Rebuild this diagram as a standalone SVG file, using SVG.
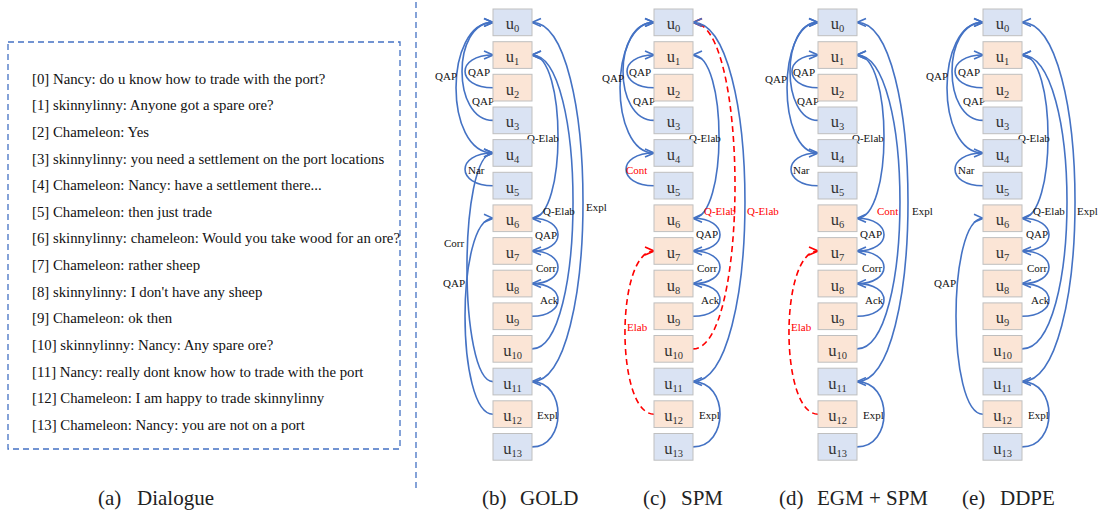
<svg xmlns="http://www.w3.org/2000/svg" width="1100" height="513" viewBox="0 0 1100 513">
<style>
.bg{fill:#ffffff}
.nb{fill:#dae3f3;stroke:#bfbfbf;stroke-width:1}
.no{fill:#fbe5d6;stroke:#bfbfbf;stroke-width:1}
text{font-family:'Liberation Serif','Times New Roman',Tinos,'DejaVu Serif',serif}
.ut{font-size:16.5px;fill:#333;text-anchor:middle}
.sub{font-size:10.5px}
.e{fill:none;stroke:#4472c4;stroke-width:1.6;marker-end:url(#ab)}
.er{fill:none;stroke:#ff0000;stroke-width:1.6;stroke-dasharray:6 4;marker-end:url(#ar)}
.lb{font-size:11px;fill:#111}
.lr{fill:#ff0000}
.dl{font-size:14.8px;fill:#111}
.cap{font-size:21px;fill:#222}
.dash{fill:none;stroke:#4472c4;stroke-width:1.3;stroke-dasharray:6 4}
</style>
<defs>
<marker id="ab" viewBox="0 0 10 10" refX="10" refY="5" markerWidth="10" markerHeight="10" markerUnits="userSpaceOnUse" orient="auto"><path d="M1,1 L10,5 L1,9" fill="none" stroke="#4472c4" stroke-width="1.6"/></marker>
<marker id="ar" viewBox="0 0 10 10" refX="10" refY="5" markerWidth="10" markerHeight="10" markerUnits="userSpaceOnUse" orient="auto"><path d="M1,1 L10,5 L1,9" fill="none" stroke="#ff0000" stroke-width="1.6"/></marker>
</defs>
<rect class="bg" x="0" y="0" width="1100" height="513"/>

<!-- Dialogue panel -->
<g id="dialogue">
<rect class="dash" x="8" y="42" width="392" height="407"/>
<text class="dl" x="32" y="83.5">[0] Nancy: do u know how to trade with the port?</text>
<text class="dl" x="32" y="110.2">[1] skinnylinny: Anyone got a spare ore?</text>
<text class="dl" x="32" y="136.8">[2] Chameleon: Yes</text>
<text class="dl" x="32" y="163.5">[3] skinnylinny: you need a settlement on the port locations</text>
<text class="dl" x="32" y="190.1">[4] Chameleon: Nancy: have a settlement there...</text>
<text class="dl" x="32" y="216.8">[5] Chameleon: then just trade</text>
<text class="dl" x="32" y="243.4">[6] skinnylinny: chameleon: Would you take wood for an ore?</text>
<text class="dl" x="32" y="270.1">[7] Chameleon: rather sheep</text>
<text class="dl" x="32" y="296.7">[8] skinnylinny: I don't have any sheep</text>
<text class="dl" x="32" y="323.4">[9] Chameleon: ok then</text>
<text class="dl" x="32" y="350">[10] skinnylinny: Nancy: Any spare ore?</text>
<text class="dl" x="32" y="376.7">[11] Nancy: really dont know how to trade with the port</text>
<text class="dl" x="32" y="403.3">[12] Chameleon: I am happy to trade skinnylinny</text>
<text class="dl" x="32" y="430">[13] Chameleon: Nancy: you are not on a port</text>
</g>
<line class="dash" x1="416" y1="2" x2="416" y2="490"/>

<!-- Connectors -->
<g id="connectors">
<!-- GOLD -->
<path class="e" d="M493,87.7 C455.7,87.7 455.7,55 493,55"/>
<path class="e" d="M493,120.4 C451.7,120.4 451.7,22.4 493,22.4"/>
<path class="e" d="M493,153 C443.7,153 443.7,22.4 493,22.4"/>
<path class="e" d="M493,185.7 C455.7,185.7 455.7,153 493,153"/>
<path class="e" d="M493,381.6 C458.3,381.6 458.3,153 493,153"/>
<path class="e" d="M493,414.2 C455.7,414.2 455.7,218.3 493,218.3"/>
<path class="e" d="M532,218.3 C566.7,218.3 566.7,55 532,55"/>
<path class="e" d="M532,348.9 C586.7,348.9 586.7,55 532,55"/>
<path class="e" d="M532,381.6 C600,381.6 600,22.4 532,22.4"/>
<path class="e" d="M532,251 C566.7,251 566.7,218.3 532,218.3"/>
<path class="e" d="M532,283.6 C566.7,283.6 566.7,251 532,251"/>
<path class="e" d="M532,316.3 C566.7,316.3 566.7,283.6 532,283.6"/>
<path class="e" d="M532,446.9 C566.7,446.9 566.7,381.6 532,381.6"/>
<!-- SPM -->
<path class="e" d="M654,87.7 C618,87.7 618,55 654,55"/>
<path class="e" d="M654,120.4 C612.7,120.4 612.7,22.4 654,22.4"/>
<path class="e" d="M654,153 C608.7,153 608.7,22.4 654,22.4"/>
<path class="e" d="M654,185.7 C616.7,185.7 616.7,153 654,153"/>
<path class="er" d="M654,414.2 C615.3,414.2 615.3,251 654,251"/>
<path class="e" d="M693,218.3 C727.7,218.3 727.7,55 693,55"/>
<path class="er" d="M693,348.9 C749,348.9 749,22.4 693,22.4"/>
<path class="e" d="M693,381.6 C762.3,381.6 762.3,22.4 693,22.4"/>
<path class="e" d="M693,251 C729,251 729,218.3 693,218.3"/>
<path class="e" d="M693,283.6 C729,283.6 729,251 693,251"/>
<path class="e" d="M693,316.3 C729,316.3 729,283.6 693,283.6"/>
<path class="e" d="M693,446.9 C729,446.9 729,381.6 693,381.6"/>
<!-- EGM + SPM -->
<path class="e" d="M818,87.7 C783.3,87.7 783.3,55 818,55"/>
<path class="e" d="M818,120.4 C780.7,120.4 780.7,22.4 818,22.4"/>
<path class="e" d="M818,153 C776.7,153 776.7,22.4 818,22.4"/>
<path class="e" d="M818,185.7 C782,185.7 782,153 818,153"/>
<path class="er" d="M818,414.2 C779.3,414.2 779.3,251 818,251"/>
<path class="e" d="M857,218.3 C893,218.3 893,55 857,55"/>
<path class="e" d="M857,348.9 C914.3,348.9 914.3,55 857,55"/>
<path class="e" d="M857,381.6 C925,381.6 925,22.4 857,22.4"/>
<path class="e" d="M857,251 C893,251 893,218.3 857,218.3"/>
<path class="e" d="M857,283.6 C893,283.6 893,251 857,251"/>
<path class="e" d="M857,316.3 C893,316.3 893,283.6 857,283.6"/>
<path class="e" d="M857,446.9 C893,446.9 893,381.6 857,381.6"/>
<!-- DDPE -->
<path class="e" d="M983,87.7 C945.7,87.7 945.7,55 983,55"/>
<path class="e" d="M983,120.4 C941.7,120.4 941.7,22.4 983,22.4"/>
<path class="e" d="M983,153 C935,153 935,22.4 983,22.4"/>
<path class="e" d="M983,185.7 C945.7,185.7 945.7,153 983,153"/>
<path class="e" d="M983,414.2 C947,414.2 947,218.3 983,218.3"/>
<path class="e" d="M1022,218.3 C1056.7,218.3 1056.7,55 1022,55"/>
<path class="e" d="M1022,348.9 C1082,348.9 1082,55 1022,55"/>
<path class="e" d="M1022,381.6 C1092.7,381.6 1092.7,22.4 1022,22.4"/>
<path class="e" d="M1022,251 C1058,251 1058,218.3 1022,218.3"/>
<path class="e" d="M1022,283.6 C1058,283.6 1058,251 1022,251"/>
<path class="e" d="M1022,316.3 C1058,316.3 1058,283.6 1022,283.6"/>
<path class="e" d="M1022,446.9 C1058,446.9 1058,381.6 1022,381.6"/>

<!-- labels GOLD -->
<text class="lb" x="435" y="80">QAP</text>
<text class="lb" x="468" y="76">QAP</text>
<text class="lb" x="472" y="105">QAP</text>
<text class="lb" x="468" y="174">Nar</text>
<text class="lb" x="444" y="247">Corr</text>
<text class="lb" x="443" y="287">QAP</text>
<text class="lb" x="527" y="142">Q-Elab</text>
<text class="lb" x="543" y="215">Q-Elab</text>
<text class="lb" x="586" y="211">Expl</text>
<text class="lb" x="535" y="239">QAP</text>
<text class="lb" x="536" y="272">Corr</text>
<text class="lb" x="540" y="304">Ack</text>
<text class="lb" x="537" y="419">Expl</text>
<!-- labels SPM -->
<text class="lb" x="602" y="82">QAP</text>
<text class="lb" x="629" y="76">QAP</text>
<text class="lb" x="633" y="105">QAP</text>
<text class="lb lr" x="626" y="174">Cont</text>
<text class="lb lr" x="627" y="331">Elab</text>
<text class="lb" x="689" y="142">Q-Elab</text>
<text class="lb lr" x="704" y="215">Q-Elab</text>
<text class="lb lr" x="747" y="215">Q-Elab</text>
<text class="lb" x="696" y="238">QAP</text>
<text class="lb" x="697" y="272">Corr</text>
<text class="lb" x="701" y="304">Ack</text>
<text class="lb" x="699" y="419">Expl</text>
<!-- labels EGM + SPM -->
<text class="lb" x="765" y="83">QAP</text>
<text class="lb" x="793" y="76">QAP</text>
<text class="lb" x="797" y="105">QAP</text>
<text class="lb" x="793" y="174">Nar</text>
<text class="lb lr" x="791" y="331">Elab</text>
<text class="lb" x="852" y="142">Q-Elab</text>
<text class="lb lr" x="877" y="215">Cont</text>
<text class="lb" x="912" y="215">Expl</text>
<text class="lb" x="860" y="238">QAP</text>
<text class="lb" x="862" y="272">Corr</text>
<text class="lb" x="865" y="304">Ack</text>
<text class="lb" x="863" y="419">Expl</text>
<!-- labels DDPE -->
<text class="lb" x="926" y="80">QAP</text>
<text class="lb" x="958" y="76">QAP</text>
<text class="lb" x="963" y="105">QAP</text>
<text class="lb" x="958" y="174">Nar</text>
<text class="lb" x="934" y="287">QAP</text>
<text class="lb" x="1018" y="142">Q-Elab</text>
<text class="lb" x="1033" y="215">Q-Elab</text>
<text class="lb" x="1077" y="215">Expl</text>
<text class="lb" x="1026" y="238">QAP</text>
<text class="lb" x="1027" y="272">Corr</text>
<text class="lb" x="1031" y="304">Ack</text>
<text class="lb" x="1028" y="419">Expl</text>
</g>

<!-- GOLD nodes -->
<g id="gold-u0"><rect class="nb" x="493" y="9" width="39" height="26.7"/><text class="ut" x="512.5" y="29.4">u<tspan class="sub" dy="3">0</tspan></text></g>
<g id="gold-u1"><rect class="no" x="493" y="41.7" width="39" height="26.7"/><text class="ut" x="512.5" y="62">u<tspan class="sub" dy="3">1</tspan></text></g>
<g id="gold-u2"><rect class="no" x="493" y="74.3" width="39" height="26.7"/><text class="ut" x="512.5" y="94.7">u<tspan class="sub" dy="3">2</tspan></text></g>
<g id="gold-u3"><rect class="nb" x="493" y="107" width="39" height="26.7"/><text class="ut" x="512.5" y="127.4">u<tspan class="sub" dy="3">3</tspan></text></g>
<g id="gold-u4"><rect class="nb" x="493" y="139.6" width="39" height="26.7"/><text class="ut" x="512.5" y="160">u<tspan class="sub" dy="3">4</tspan></text></g>
<g id="gold-u5"><rect class="nb" x="493" y="172.3" width="39" height="26.7"/><text class="ut" x="512.5" y="192.7">u<tspan class="sub" dy="3">5</tspan></text></g>
<g id="gold-u6"><rect class="no" x="493" y="204.9" width="39" height="26.7"/><text class="ut" x="512.5" y="225.3">u<tspan class="sub" dy="3">6</tspan></text></g>
<g id="gold-u7"><rect class="no" x="493" y="237.6" width="39" height="26.7"/><text class="ut" x="512.5" y="258">u<tspan class="sub" dy="3">7</tspan></text></g>
<g id="gold-u8"><rect class="no" x="493" y="270.2" width="39" height="26.7"/><text class="ut" x="512.5" y="290.6">u<tspan class="sub" dy="3">8</tspan></text></g>
<g id="gold-u9"><rect class="no" x="493" y="302.9" width="39" height="26.7"/><text class="ut" x="512.5" y="323.3">u<tspan class="sub" dy="3">9</tspan></text></g>
<g id="gold-u10"><rect class="no" x="493" y="335.5" width="39" height="26.7"/><text class="ut" x="512.5" y="355.9">u<tspan class="sub" dy="3">10</tspan></text></g>
<g id="gold-u11"><rect class="nb" x="493" y="368.2" width="39" height="26.7"/><text class="ut" x="512.5" y="388.6">u<tspan class="sub" dy="3">11</tspan></text></g>
<g id="gold-u12"><rect class="no" x="493" y="400.8" width="39" height="26.7"/><text class="ut" x="512.5" y="421.2">u<tspan class="sub" dy="3">12</tspan></text></g>
<g id="gold-u13"><rect class="nb" x="493" y="433.5" width="39" height="26.7"/><text class="ut" x="512.5" y="453.9">u<tspan class="sub" dy="3">13</tspan></text></g>

<!-- SPM nodes -->
<g id="spm-u0"><rect class="nb" x="654" y="9" width="39" height="26.7"/><text class="ut" x="673.5" y="29.4">u<tspan class="sub" dy="3">0</tspan></text></g>
<g id="spm-u1"><rect class="no" x="654" y="41.7" width="39" height="26.7"/><text class="ut" x="673.5" y="62">u<tspan class="sub" dy="3">1</tspan></text></g>
<g id="spm-u2"><rect class="no" x="654" y="74.3" width="39" height="26.7"/><text class="ut" x="673.5" y="94.7">u<tspan class="sub" dy="3">2</tspan></text></g>
<g id="spm-u3"><rect class="nb" x="654" y="107" width="39" height="26.7"/><text class="ut" x="673.5" y="127.4">u<tspan class="sub" dy="3">3</tspan></text></g>
<g id="spm-u4"><rect class="nb" x="654" y="139.6" width="39" height="26.7"/><text class="ut" x="673.5" y="160">u<tspan class="sub" dy="3">4</tspan></text></g>
<g id="spm-u5"><rect class="nb" x="654" y="172.3" width="39" height="26.7"/><text class="ut" x="673.5" y="192.7">u<tspan class="sub" dy="3">5</tspan></text></g>
<g id="spm-u6"><rect class="no" x="654" y="204.9" width="39" height="26.7"/><text class="ut" x="673.5" y="225.3">u<tspan class="sub" dy="3">6</tspan></text></g>
<g id="spm-u7"><rect class="no" x="654" y="237.6" width="39" height="26.7"/><text class="ut" x="673.5" y="258">u<tspan class="sub" dy="3">7</tspan></text></g>
<g id="spm-u8"><rect class="no" x="654" y="270.2" width="39" height="26.7"/><text class="ut" x="673.5" y="290.6">u<tspan class="sub" dy="3">8</tspan></text></g>
<g id="spm-u9"><rect class="no" x="654" y="302.9" width="39" height="26.7"/><text class="ut" x="673.5" y="323.3">u<tspan class="sub" dy="3">9</tspan></text></g>
<g id="spm-u10"><rect class="no" x="654" y="335.5" width="39" height="26.7"/><text class="ut" x="673.5" y="355.9">u<tspan class="sub" dy="3">10</tspan></text></g>
<g id="spm-u11"><rect class="nb" x="654" y="368.2" width="39" height="26.7"/><text class="ut" x="673.5" y="388.6">u<tspan class="sub" dy="3">11</tspan></text></g>
<g id="spm-u12"><rect class="no" x="654" y="400.8" width="39" height="26.7"/><text class="ut" x="673.5" y="421.2">u<tspan class="sub" dy="3">12</tspan></text></g>
<g id="spm-u13"><rect class="nb" x="654" y="433.5" width="39" height="26.7"/><text class="ut" x="673.5" y="453.9">u<tspan class="sub" dy="3">13</tspan></text></g>

<!-- EGM + SPM nodes -->
<g id="egm-u0"><rect class="nb" x="818" y="9" width="39" height="26.7"/><text class="ut" x="837.5" y="29.4">u<tspan class="sub" dy="3">0</tspan></text></g>
<g id="egm-u1"><rect class="no" x="818" y="41.7" width="39" height="26.7"/><text class="ut" x="837.5" y="62">u<tspan class="sub" dy="3">1</tspan></text></g>
<g id="egm-u2"><rect class="no" x="818" y="74.3" width="39" height="26.7"/><text class="ut" x="837.5" y="94.7">u<tspan class="sub" dy="3">2</tspan></text></g>
<g id="egm-u3"><rect class="nb" x="818" y="107" width="39" height="26.7"/><text class="ut" x="837.5" y="127.4">u<tspan class="sub" dy="3">3</tspan></text></g>
<g id="egm-u4"><rect class="nb" x="818" y="139.6" width="39" height="26.7"/><text class="ut" x="837.5" y="160">u<tspan class="sub" dy="3">4</tspan></text></g>
<g id="egm-u5"><rect class="nb" x="818" y="172.3" width="39" height="26.7"/><text class="ut" x="837.5" y="192.7">u<tspan class="sub" dy="3">5</tspan></text></g>
<g id="egm-u6"><rect class="no" x="818" y="204.9" width="39" height="26.7"/><text class="ut" x="837.5" y="225.3">u<tspan class="sub" dy="3">6</tspan></text></g>
<g id="egm-u7"><rect class="no" x="818" y="237.6" width="39" height="26.7"/><text class="ut" x="837.5" y="258">u<tspan class="sub" dy="3">7</tspan></text></g>
<g id="egm-u8"><rect class="no" x="818" y="270.2" width="39" height="26.7"/><text class="ut" x="837.5" y="290.6">u<tspan class="sub" dy="3">8</tspan></text></g>
<g id="egm-u9"><rect class="no" x="818" y="302.9" width="39" height="26.7"/><text class="ut" x="837.5" y="323.3">u<tspan class="sub" dy="3">9</tspan></text></g>
<g id="egm-u10"><rect class="no" x="818" y="335.5" width="39" height="26.7"/><text class="ut" x="837.5" y="355.9">u<tspan class="sub" dy="3">10</tspan></text></g>
<g id="egm-u11"><rect class="nb" x="818" y="368.2" width="39" height="26.7"/><text class="ut" x="837.5" y="388.6">u<tspan class="sub" dy="3">11</tspan></text></g>
<g id="egm-u12"><rect class="no" x="818" y="400.8" width="39" height="26.7"/><text class="ut" x="837.5" y="421.2">u<tspan class="sub" dy="3">12</tspan></text></g>
<g id="egm-u13"><rect class="nb" x="818" y="433.5" width="39" height="26.7"/><text class="ut" x="837.5" y="453.9">u<tspan class="sub" dy="3">13</tspan></text></g>

<!-- DDPE nodes -->
<g id="ddpe-u0"><rect class="nb" x="983" y="9" width="39" height="26.7"/><text class="ut" x="1002.5" y="29.4">u<tspan class="sub" dy="3">0</tspan></text></g>
<g id="ddpe-u1"><rect class="no" x="983" y="41.7" width="39" height="26.7"/><text class="ut" x="1002.5" y="62">u<tspan class="sub" dy="3">1</tspan></text></g>
<g id="ddpe-u2"><rect class="no" x="983" y="74.3" width="39" height="26.7"/><text class="ut" x="1002.5" y="94.7">u<tspan class="sub" dy="3">2</tspan></text></g>
<g id="ddpe-u3"><rect class="nb" x="983" y="107" width="39" height="26.7"/><text class="ut" x="1002.5" y="127.4">u<tspan class="sub" dy="3">3</tspan></text></g>
<g id="ddpe-u4"><rect class="nb" x="983" y="139.6" width="39" height="26.7"/><text class="ut" x="1002.5" y="160">u<tspan class="sub" dy="3">4</tspan></text></g>
<g id="ddpe-u5"><rect class="nb" x="983" y="172.3" width="39" height="26.7"/><text class="ut" x="1002.5" y="192.7">u<tspan class="sub" dy="3">5</tspan></text></g>
<g id="ddpe-u6"><rect class="no" x="983" y="204.9" width="39" height="26.7"/><text class="ut" x="1002.5" y="225.3">u<tspan class="sub" dy="3">6</tspan></text></g>
<g id="ddpe-u7"><rect class="no" x="983" y="237.6" width="39" height="26.7"/><text class="ut" x="1002.5" y="258">u<tspan class="sub" dy="3">7</tspan></text></g>
<g id="ddpe-u8"><rect class="no" x="983" y="270.2" width="39" height="26.7"/><text class="ut" x="1002.5" y="290.6">u<tspan class="sub" dy="3">8</tspan></text></g>
<g id="ddpe-u9"><rect class="no" x="983" y="302.9" width="39" height="26.7"/><text class="ut" x="1002.5" y="323.3">u<tspan class="sub" dy="3">9</tspan></text></g>
<g id="ddpe-u10"><rect class="no" x="983" y="335.5" width="39" height="26.7"/><text class="ut" x="1002.5" y="355.9">u<tspan class="sub" dy="3">10</tspan></text></g>
<g id="ddpe-u11"><rect class="nb" x="983" y="368.2" width="39" height="26.7"/><text class="ut" x="1002.5" y="388.6">u<tspan class="sub" dy="3">11</tspan></text></g>
<g id="ddpe-u12"><rect class="no" x="983" y="400.8" width="39" height="26.7"/><text class="ut" x="1002.5" y="421.2">u<tspan class="sub" dy="3">12</tspan></text></g>
<g id="ddpe-u13"><rect class="nb" x="983" y="433.5" width="39" height="26.7"/><text class="ut" x="1002.5" y="453.9">u<tspan class="sub" dy="3">13</tspan></text></g>

<!-- Captions -->
<g id="captions">
<text class="cap" y="505"><tspan x="98">(a)</tspan><tspan x="137">Dialogue</tspan></text>
<text class="cap" y="505"><tspan x="482">(b)</tspan><tspan x="520">GOLD</tspan></text>
<text class="cap" y="505"><tspan x="643">(c)</tspan><tspan x="681">SPM</tspan></text>
<text class="cap" y="505"><tspan x="779">(d)</tspan><tspan x="817">EGM + SPM</tspan></text>
<text class="cap" y="505"><tspan x="962">(e)</tspan><tspan x="1000">DDPE</tspan></text>
</g>
</svg>
